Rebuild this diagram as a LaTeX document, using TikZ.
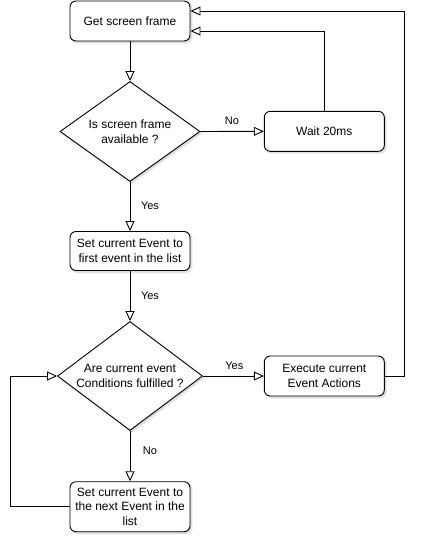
\documentclass[tikz,border=0pt]{standalone}
\usepackage{fontspec}
\setmainfont{Liberation Sans}
\usetikzlibrary{arrows.meta,shapes.geometric,shadows.blur}
\begin{document}
\begin{tikzpicture}[x=1pt,y=-1pt,
  font=\fontsize{12}{14.5}\selectfont,
  softshadow/.style={blur shadow={shadow xshift=1.5pt, shadow yshift=-1.5pt,
      shadow blur steps=6, shadow blur radius=2pt, shadow opacity=22}},
  procbox/.style={draw=black, line width=0.9pt, fill=white, rounded corners=6pt,
      minimum width=120pt, minimum height=40pt, inner sep=2pt, align=center,
      softshadow},
  decision/.style={draw=black, line width=0.9pt, fill=white, diamond, inner sep=0pt,
      align=center, softshadow},
  flow/.style={draw=black, line width=0.9pt,
      -{Triangle[open, length=10pt, width=9pt, line width=0.9pt]}},
  lbl/.style={inner sep=0pt, font=\fontsize{11}{13}\selectfont}]
\useasboundingbox (0,0) rectangle (422,539);

% process steps and decisions
\node[procbox] (get) at (130,21) {Get screen frame};
\node[decision, minimum width=140pt, minimum height=100pt, aspect=1.4] (avail) at (130,131.5)
  {Is screen frame\\available ?};
\node[procbox] (wait) at (324.3,131.3) {Wait 20ms};
\node[procbox, minimum height=39pt] (first) at (130,251)
  {Set current Event to\\first event in the list};
\node[decision, minimum width=145pt, minimum height=109pt, aspect=1.33] (cond) at (130,376)
  {Are current event\\Conditions fulfilled ?};
\node[procbox] (exec) at (324.3,376) {Execute current\\Event Actions};
\node[procbox, minimum height=50pt] (next) at (130,506.7)
  {Set current Event to\\the next Event in the\\list};

% connectors
\draw[flow] (get.south) -- (avail.north);
\draw[flow] (avail.east) -- (wait.west);
\draw[flow] (wait.north) |- ([yshift=-10pt]get.east);
\draw[flow] (avail.south) -- (first.north);
\draw[flow] (first.south) -- (cond.north);
\draw[flow] (cond.east) -- (exec.west);
\draw[flow] (exec.east) -- ++(20,0) |- ([yshift=10pt]get.east);
\draw[flow] (cond.south) -- (next.north);
\draw[flow] (next.west) -- ++(-59.3,0) |- (cond.west);

% connector labels
\node[lbl] (lno1) at (232,121) {No};
\node[lbl] (lyes1) at (150,206) {Yes};
\node[lbl] (lyes2) at (150,296) {Yes};
\node[lbl] (lyes3) at (234.3,366) {Yes};
\node[lbl] (lno2) at (150,451) {No};
\end{tikzpicture}
\end{document}
